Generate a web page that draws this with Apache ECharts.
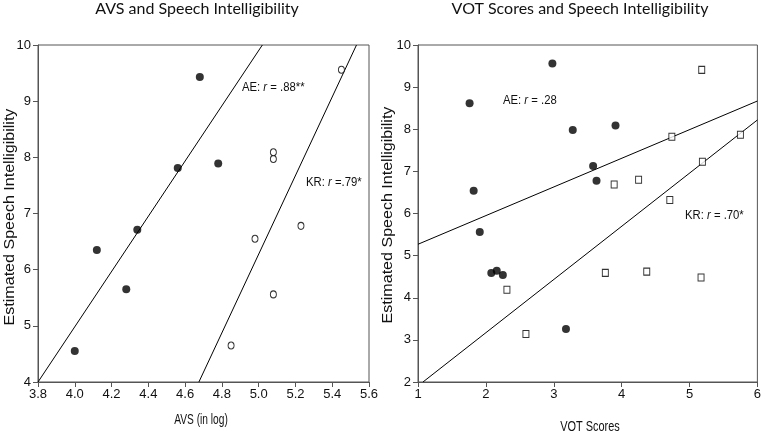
<!DOCTYPE html>
<html>
<head>
<meta charset="utf-8">
<script src="https://cdn.jsdelivr.net/npm/echarts@6/dist/echarts.min.js"></script>
<style>html,body{margin:0;padding:0;background:#fff}#c{width:764px;height:435px}</style>
</head>
<body>
<div id="c"></div>
<script>
// ---- Data: AVS panel ----
const avsAE_x = [4.00, 4.12, 4.28, 4.34, 4.56, 4.68, 4.78];
const avsAE_y = [4.55, 6.35, 5.65, 6.71, 7.81, 9.43, 7.89];
const avsKR_x = [4.85, 4.98, 5.08, 5.08, 5.08, 5.23, 5.45];
const avsKR_y = [4.65, 6.55, 5.56, 7.97, 8.09, 6.78, 9.56];
const avsAEfit_x = [3.8, 5.02];
const avsAEfit_y = [4, 10];
const avsKRfit_x = [4.675, 5.532];
const avsKRfit_y = [4, 10];

// ---- Data: VOT panel ----
const votAE_x = [1.76, 1.82, 1.91, 2.08, 2.16, 2.25, 2.98, 3.18, 3.28, 3.58, 3.63, 3.91];
const votAE_y = [8.62, 6.54, 5.56, 4.59, 4.64, 4.54, 9.56, 3.26, 7.98, 7.13, 6.78, 8.09];
const votKR_x = [2.31, 2.59, 3.76, 3.89, 4.25, 4.37, 4.71, 4.74, 5.17, 5.18, 5.19, 5.75];
const votKR_y = [4.19, 3.14, 4.59, 6.69, 6.80, 4.62, 6.32, 7.82, 4.48, 9.41, 7.23, 7.87];
const votAEfit_x = [1, 6];
const votAEfit_y = [5.27, 8.67];
const votKRfit_x = [1.073, 6];
const votKRfit_y = [2, 8.22];

// ---- Text ----
const titles = ['AVS and Speech Intelligibility', 'VOT Scores and Speech Intelligibility'];
const xNames = ['AVS (in log)', 'VOT Scores'];
const yName = 'Estimated Speech Intelligibility';
const notes = [['AE: ', 'r', ' = .88**'], ['KR: ', 'r', ' =.79*'], ['AE: ', 'r', ' = .28'], ['KR: ', 'r', ' = .70*']];

const zip = (xs, ys) => xs.map((x, i) => [x, ys[i]]);
const SANS = "'Liberation Sans', Arial, sans-serif";
const AX = '#555';

function xAxis(gi, min, max, interval, fmt) {
  return {
    type: 'value', gridIndex: gi, min, max, interval,
    axisLine: { show: true, lineStyle: { color: AX, width: 1 } },
    axisTick: { show: true, length: 5, lineStyle: { color: AX } },
    axisLabel: { color: '#111', fontFamily: SANS, fontSize: 13, margin: 6, formatter: fmt },
    splitLine: { show: false }
  };
}
function yAxis(gi, min, max) {
  return {
    type: 'value', gridIndex: gi, min, max, interval: 1,
    axisLine: { show: true, lineStyle: { color: AX, width: 1 } },
    axisTick: { show: true, length: 5, lineStyle: { color: AX } },
    axisLabel: { color: '#111', fontFamily: SANS, fontSize: 13, margin: 7 },
    splitLine: { show: false }
  };
}
function scatter(idx, data, symbol, filled) {
  return {
    type: 'scatter', xAxisIndex: idx, yAxisIndex: idx, data,
    symbol, symbolSize: filled ? 8 : [6, 7],
    itemStyle: filled ? { color: '#000' } : { color: '#fff', borderColor: '#000', borderWidth: 1 },
    silent: true, z: 3
  };
}
function fit(idx, data) {
  return {
    type: 'line', xAxisIndex: idx, yAxisIndex: idx, data, showSymbol: false, symbol: 'none',
    lineStyle: { color: '#000', width: 1 }, clip: true, silent: true, z: 2
  };
}
function note(parts, x, y) {
  return {
    type: 'text', x, y, scaleX: 0.87,
    style: {
      text: '{n|' + parts[0] + '}{i|' + parts[1] + '}{n|' + parts[2] + '}',
      align: 'left', verticalAlign: 'middle',
      rich: {
        n: { fontFamily: SANS, fontSize: 13, fill: '#111' },
        i: { fontFamily: SANS, fontSize: 13, fontStyle: 'italic', fill: '#111' }
      }
    }
  };
}
function vtext(text, x, y) {
  return {
    type: 'text', x, y, rotation: Math.PI / 2, scaleX: 1.07,
    style: { text, fontFamily: SANS, fontSize: 15, fill: '#111', align: 'center', verticalAlign: 'middle' }
  };
}
function htext(text, x, y, font, size, sx) {
  return {
    type: 'text', x, y, scaleX: sx,
    style: { text, fontFamily: font, fontSize: size, fill: '#111', align: 'center', verticalAlign: 'middle' }
  };
}

const chart = echarts.init(document.getElementById('c'), null, { renderer: 'canvas' });
chart.setOption({
  animation: false,
  backgroundColor: '#fff',
  grid: [
    { left: 38, top: 45, width: 331, height: 337, show: true, borderColor: AX, borderWidth: 1, backgroundColor: 'transparent' },
    { left: 418, top: 45, width: 342, height: 337, show: true, borderColor: AX, borderWidth: 1, backgroundColor: 'transparent' }
  ],
  xAxis: [
    xAxis(0, 3.8, 5.6, 0.2, v => v.toFixed(1)),
    xAxis(1, 1, 6, 1, v => String(Math.round(v)))
  ],
  yAxis: [yAxis(0, 4, 10), yAxis(1, 2, 10)],
  series: [
    fit(0, zip(avsAEfit_x, avsAEfit_y)),
    fit(0, zip(avsKRfit_x, avsKRfit_y)),
    scatter(0, zip(avsAE_x, avsAE_y), 'circle', true),
    scatter(0, zip(avsKR_x, avsKR_y), 'circle', false),
    fit(1, zip(votAEfit_x, votAEfit_y)),
    fit(1, zip(votKRfit_x, votKRfit_y)),
    scatter(1, zip(votAE_x, votAE_y), 'circle', true),
    scatter(1, zip(votKR_x, votKR_y), 'rect', false)
  ],
  graphic: [
    htext(titles[0], 197, 9, "Lato, 'Open Sans', sans-serif", 16, 1),
    htext(titles[1], 580, 9, "Lato, 'Open Sans', sans-serif", 16, 1),
    htext(xNames[0], 201, 420, SANS, 15, 0.68),
    htext(xNames[1], 590, 427, SANS, 15, 0.73),
    vtext(yName, 10, 217),
    vtext(yName, 388, 215),
    note(notes[0], 242, 87),
    note(notes[1], 306, 182),
    note(notes[2], 503, 100),
    note(notes[3], 685, 215)
  ]
});
</script>
</body>
</html>
